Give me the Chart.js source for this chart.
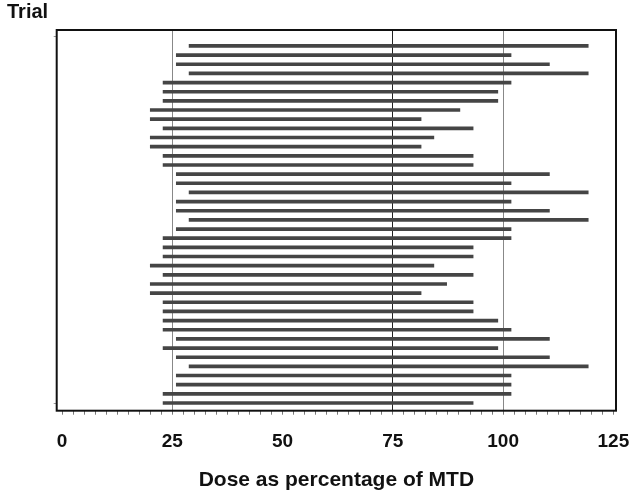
<!DOCTYPE html>
<html>
<head>
<meta charset="utf-8">
<script src="https://cdn.jsdelivr.net/npm/chart.js@4"></script>
<style>
  html, body { margin: 0; padding: 0; background: #fff; }
  #wrap { width: 629px; height: 494px; }
</style>
</head>
<body>
<div id="wrap"><canvas id="doseChart"></canvas></div>
<script>
// one row per trial, top to bottom
const trials = [1, 2, 3, 4, 5, 6, 7, 8, 9, 10, 11, 12, 13, 14, 15, 16, 17, 18, 19, 20,
                21, 22, 23, 24, 25, 26, 27, 28, 29, 30, 31, 32, 33, 34, 35, 36, 37, 38, 39, 40];
const doseLow = [28.8, 25.9, 25.9, 28.8, 22.9, 22.9, 22.9, 20, 20, 22.9,
                 20, 20, 22.9, 22.9, 25.9, 25.9, 28.8, 25.9, 25.9, 28.8,
                 25.9, 22.9, 22.9, 22.9, 20, 22.9, 20, 20, 22.9, 22.9,
                 22.9, 22.9, 25.9, 22.9, 25.9, 28.8, 25.9, 25.9, 22.9, 22.9];
const doseHigh = [119.3, 101.8, 110.5, 119.3, 101.8, 98.8, 98.8, 90.2, 81.4, 93.2,
                  84.3, 81.4, 93.2, 93.2, 110.5, 101.8, 119.3, 101.8, 110.5, 119.3,
                  101.8, 101.8, 93.2, 93.2, 84.3, 93.2, 87.2, 81.4, 93.2, 93.2,
                  98.8, 101.8, 110.5, 98.8, 110.5, 119.3, 101.8, 101.8, 101.8, 93.2];
const xTickLabels = [0, 25, 50, 75, 100, 125];
const refLines = [25, 75, 100];

const FONT = '"Liberation Sans", Arial, Helvetica, sans-serif';

// black box round the plot area
const framePlugin = {
    id: 'frame',
    afterDatasetsDraw(chart) {
        const { ctx, chartArea: a } = chart;
        ctx.save();
        ctx.strokeStyle = '#111';
        ctx.lineWidth = 2;
        ctx.strokeRect(a.left, a.top, a.right - a.left, a.bottom - a.top);
        ctx.restore();
    }
};

const rows = trials.map((t, i) => ({ y: t, x: [doseLow[i], doseHigh[i]] }));

new Chart(document.getElementById('doseChart').getContext('2d'), {
    type: 'bar',
    data: {
        datasets: [{
            data: rows,
            backgroundColor: '#454545',
            borderWidth: 0,
            barThickness: 3
        }]
    },
    plugins: [framePlugin],
    options: {
        indexAxis: 'y',
        responsive: true,
        maintainAspectRatio: false,
        animation: false,
        layout: { padding: { left: 7, top: 0, right: 0, bottom: 1 } },
        plugins: {
            legend: { display: false },
            tooltip: { enabled: false },
            title: {
                display: true,
                text: 'Trial',
                align: 'start',
                color: '#111',
                font: { family: FONT, size: 20, weight: 'bold' },
                padding: { top: 0, bottom: 6 }
            }
        },
        scales: {
            x: {
                type: 'linear',
                min: -1.22,
                max: 125.6,
                offset: false,
                afterBuildTicks(scale) {
                    const t = [];
                    for (let v = 0; v <= 125; v += 2.5) t.push({ value: v });
                    scale.ticks = t;
                },
                afterFit(scale) {
                    scale.paddingRight = 13;
                    scale.height = 82.3;
                },
                grid: {
                    offset: false,
                    color: c => c.tick && refLines.includes(c.tick.value)
                        ? (c.tick.value === 75 ? '#222' : '#888') : 'rgba(0,0,0,0)',
                    tickColor: '#777',
                    tickLength: 4,
                    lineWidth: 1
                },
                border: { display: false },
                ticks: {
                    autoSkip: false,
                    maxRotation: 0,
                    padding: 16,
                    color: '#111',
                    font: { family: FONT, size: 19, weight: 'bold' },
                    callback: v => xTickLabels.includes(v) ? String(v) : ''
                },
                title: {
                    display: true,
                    text: 'Dose as percentage of MTD',
                    color: '#111',
                    font: { family: FONT, size: 21, weight: 'bold' },
                    padding: { top: 0, bottom: 0 }
                }
            },
            y: {
                type: 'linear',
                reverse: true,
                min: -0.74,
                max: 40.84,
                offset: false,
                afterBuildTicks(scale) {
                    scale.ticks = [{ value: 0 }, { value: 40 }];
                },
                afterFit(scale) { scale.width = 49.7; },
                grid: {
                    offset: false,
                    drawOnChartArea: false,
                    tickColor: '#999',
                    tickLength: 3
                },
                border: { display: false },
                ticks: { display: false }
            }
        }
    }
});
</script>
</body>
</html>
